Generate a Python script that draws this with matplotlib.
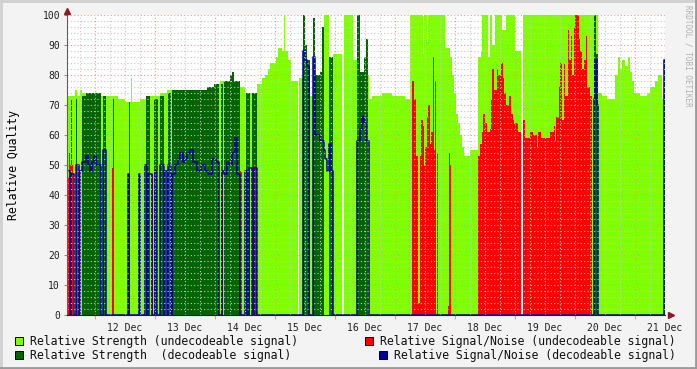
import numpy as np
import matplotlib
matplotlib.use("Agg")
import matplotlib.pyplot as plt
from matplotlib.lines import Line2D
from matplotlib.patches import Rectangle
from matplotlib.ticker import FixedLocator, FixedFormatter, MultipleLocator

nan = np.nan

# rrd rows: one row = 24 min, row 0 = 11 Dec 12:48 (hours since 11 Dec 00:00)
T0 = 12.8
STEP = 0.4
N_ROWS = 598

# relative strength, undecodeable signal (light green)
weak_rows = [0, 8, 10, 13, 15, 34, 51, 58, 64, 65, 73, 83, 93, 100, 148, 153, 173, 178,
             190, 195, 198, 201, 203, 209, 211, 215, 217, 218, 221, 224, 231, 232, 243,
             246, 257, 262, 266, 275, 277, 286, 293, 302, 305, 315, 325, 338, 343, 356,
             357, 360, 361, 378, 383, 385, 387, 389, 391, 393, 395, 397, 403, 411, 414,
             415, 421, 423, 425, 428, 435, 439, 448, 454, 456, 531, 535, 540, 548, 551,
             553, 555, 558, 561, 563, 565, 567, 573, 580, 583, 588, 591, 595]
weak_vals = [73, 75, 73, 75, 74, 73, 72, 71, 79, 71, 72, 73, 74, 75, 77, 78, 76, 74,
             77, 79, 80, 82, 84, 86, 89, 88, 100, 88, 85, 78, nan, 79, 73,
             80, 100, 86, 87, nan, 100, 85, 80, 72, 73, 74, 73, 72, 100, 87,
             100, 91, 100, 89, 86, 80, 74, 67, 64, 60, 56, 53, 55, 86, 88,
             100, 86, 100, 90, 100, 95, 100, 88, nan, 100, 74, 73, 72, 80, 86,
             82, 85, 83, 86, 81, 78, 74, 73, 74, 76, 78, 80, 72]

# relative strength, decodeable signal (dark green)
good_rows = [4, 5, 9, 10, 15, 19, 34, 36, 39, 46, 47, 62, 63, 79, 83, 87, 91, 93, 97,
             101, 104, 105, 140, 147, 152, 154, 156, 157, 163, 165, 167, 173, 179, 183,
             185, 190, 236, 238, 240, 243, 246, 248, 253, 255, 257, 262, 266, 290, 293,
             297, 299, 301, 527, 529, 531, 597]
good_vals = [72, nan, 72, nan, 73, 74, nan, 73, nan, 72, nan, 71, nan, 73, nan, 72, nan, 73, nan,
             74, nan, 75, 76, 77, nan, 77, nan, 78, 80, 81, 78, nan, 74, nan,
             74, nan, 100, 90, 85, nan, 99, 80, 81, 96, nan, 86, nan, 100, 81,
             86, 92, nan, 100, 87, nan, 85]

# relative signal/noise, undecodeable signal (red)
snr_bad_rows = [0, 2, 3, 6, 10, 12, 45, 47, 84, 86, 102, 103, 155, 156, 173, 175, 178, 179,
                187, 188, 345, 347, 349, 351, 353, 354, 356, 357, 358, 360, 361, 363, 364,
                366, 367, 368, 369, 370, 371, 381, 382, 383, 384, 411, 413, 415, 416, 418,
                420, 423, 424, 425, 427, 430, 431, 434, 436, 437, 439, 442, 444, 446, 447,
                451, 454, 456, 458, 463, 466, 470, 471, 474, 483, 487, 488, 489, 492, 493,
                495, 497, 498, 501, 502, 504, 505, 507, 508, 512, 513, 515, 517, 519, 520,
                523, 525]
snr_bad_vals = [46, 54, 50, nan, 50, nan, 49, nan, 47, nan, 47, nan, 47, nan, 48, nan, 47, nan,
                50, nan, 78, 72, 53, 4, 53, 65, 63, 50, 56, 66, 70, 57, 61,
                86, 55, 78, nan, 54, nan, 3, 54, 50, nan, 53, 57, 61, 67, 64,
                61, 62, 72, 82, 75, 82, 80, 84, 79, 74, 70, 73, 67, 65, 64,
                61, nan, 65, 59, 61, 60, 56, 61, 59, 61, 63, 58, 66, 76, 84,
                65, 84, 73, 95, 85, 93, 80, 96, 100, 92, 88, 82, 85, 93, 76,
                73, nan]

# relative signal/noise, decodeable signal (blue line, 0 when not decoded)
snr_good_rows = [0, 3, 4, 7, 9, 12, 13, 15, 19, 21, 23, 25, 27, 29, 34, 36, 39, 61, 62, 72,
                 73, 78, 80, 81, 85, 88, 89, 93, 97, 98, 100, 101, 104, 105, 108, 111, 113,
                 116, 118, 120, 123, 126, 130, 134, 138, 141, 145, 149, 152, 155, 157, 160,
                 162, 165, 168, 170, 173, 178, 180, 182, 185, 187, 190, 236, 238, 240, 242,
                 246, 248, 253, 257, 258, 260, 262, 264, 266, 290, 293, 295, 297, 299, 302,
                 527, 528, 530, 531, 597]
snr_good_vals = [48, 0, 47, 0, 50, 0, 48, 51, 53, 50, 48, 51, 53, 50, 0, 55, 0, 47, 0, 47,
                 0, 50, 0, 47, 0, 48, 0, 50, 0, 48, 0, 50, 0, 47, 50, 52, 54,
                 51, 52, 54, 55, 51, 48, 50, 48, 47, 52, 51, 0, 48, 47, 51,
                 50, 54, 59, 47, 0, 48, 0, 49, 0, 49, 0, 88, 85, 83, 0,
                 86, 60, 58, 55, 52, 48, 57, 48, 0, 58, 62, 66, 64, 58, 0,
                 72, 85, 70, 0, 85]

day_labels = ["12 Dec", "13 Dec", "14 Dec", "15 Dec", "16 Dec",
              "17 Dec", "18 Dec", "19 Dec", "20 Dec", "21 Dec"]

legend_labels = ["Relative Strength (undecodeable signal)",
                 "Relative Strength  (decodeable signal)",
                 "Relative Signal/Noise (undecodeable signal)",
                 "Relative Signal/Noise (decodeable signal)"]

C_WEAK = "#80ff00"
C_GOOD = "#006400"
C_SNR_BAD = "#ff0000"
C_SNR_GOOD = "#00009c"
MONO = "DejaVu Sans Mono"


def draw_runs(ax, rows, vals, color):
    rows = np.array(rows, dtype=float)
    vals = np.array(vals, dtype=float)
    ends = np.append(rows[1:], N_ROWS)
    ok = ~np.isnan(vals)
    left = T0 + rows[ok] * STEP
    width = (ends[ok] - rows[ok]) * STEP
    ax.bar(left, vals[ok], width=width, align="edge", color=color,
           linewidth=0, zorder=1)


W, H = 697, 369
fig = plt.figure(figsize=(W / 100, H / 100), dpi=100, facecolor="#f3f3f3")
ax = fig.add_axes([67 / W, 54 / H, 598 / W, 300 / H])
ax.set_facecolor("white")

draw_runs(ax, weak_rows, weak_vals, C_WEAK)
draw_runs(ax, good_rows, good_vals, C_GOOD)
draw_runs(ax, snr_bad_rows, snr_bad_vals, C_SNR_BAD)

xs = T0 + np.append(snr_good_rows, N_ROWS) * STEP
ys = np.append(snr_good_vals, snr_good_vals[-1])
ax.step(xs, ys, where="post", color=C_SNR_GOOD, lw=1.1, zorder=2)

x_end = T0 + N_ROWS * STEP
ax.set_xlim(T0, x_end)
ax.set_ylim(0, 100)

# grid, drawn over the data like rrdtool does
for h in np.arange(18, x_end, 6):
    if h % 24 == 0:
        continue
    ax.axvline(h, color="#c8c8c8", lw=0.8, ls=(0, (1, 2)), zorder=3)
for v in range(2, 100, 2):
    if v % 10 == 0:
        continue
    ax.axhline(v, color="#c8c8c8", lw=0.8, ls=(0, (1, 2)), zorder=3)
for h in np.arange(24, x_end, 24):
    ax.axvline(h, color="#e0a0a0", lw=0.8, ls=(0, (1, 2)), zorder=3)
for v in range(10, 101, 10):
    ax.axhline(v, color="#e0a0a0", lw=0.8, ls=(0, (1, 2)), zorder=3)

# ticks
ax.xaxis.set_major_locator(MultipleLocator(24))
ax.xaxis.set_major_formatter(FixedFormatter([]))
noons = [36 + 24 * i for i in range(len(day_labels))]
ax.xaxis.set_minor_locator(FixedLocator(noons))
ax.xaxis.set_minor_formatter(FixedFormatter(day_labels))
ax.tick_params(axis="x", which="major", length=3, color="#e0a0a0", direction="out")
ax.tick_params(axis="x", which="minor", length=0, pad=6, labelsize=7)
ax.set_yticks(range(0, 101, 10))
ax.tick_params(axis="y", length=2, color="#909090", pad=3, labelsize=7)
for lab in ax.get_xticklabels(which="minor") + ax.get_yticklabels():
    lab.set_fontfamily(MONO)
    lab.set_color("#202020")

for s in ["top", "right"]:
    ax.spines[s].set_visible(False)
ax.spines["left"].set_color("#606060")
ax.spines["bottom"].set_color("#202020")
ax.spines["left"].set_zorder(4)
ax.spines["bottom"].set_zorder(4)

# axis arrows
ax.plot([T0], [101.5], marker="^", ms=4, color="#8b1a1a", clip_on=False, zorder=5)
ax.plot([x_end + 2.2], [0], marker=">", ms=4, color="#8b1a1a", clip_on=False, zorder=5)

ax.set_ylabel("Relative Quality", fontfamily=MONO, fontsize=8.3, labelpad=16)

fig.text(688 / W, 1 - 5 / H, "RRDTOOL / TOBI OETIKER", rotation=270, fontfamily=MONO,
         fontsize=5.5, color="#b0b0b0", ha="center", va="top")

# legend
leg_pos = [(15, 341, 30), (15, 355, 30), (365, 341, 380), (379, 355, 394)]
leg_cols = [C_WEAK, C_GOOD, C_SNR_BAD, C_SNR_GOOD]
for (bx, by, tx), col, lab in zip(leg_pos, leg_cols, legend_labels):
    fig.patches.append(Rectangle((bx / W, 1 - (by + 4) / H), 8 / W, 8 / H,
                                 transform=fig.transFigure, facecolor=col,
                                 edgecolor="black", lw=0.7))
    fig.text(tx / W, 1 - by / H, lab, fontfamily=MONO, fontsize=8.3,
             color="#101010", va="center", ha="left")

# 3d frame of the canvas
fig.add_artist(Line2D([0, 1], [1 - 1 / H, 1 - 1 / H], transform=fig.transFigure, color="#d0d0d0", lw=2))
fig.add_artist(Line2D([1 / W, 1 / W], [0, 1], transform=fig.transFigure, color="#d0d0d0", lw=2))
fig.add_artist(Line2D([0, 1], [1 / H, 1 / H], transform=fig.transFigure, color="#9a9a9a", lw=2))
fig.add_artist(Line2D([1 - 1 / W, 1 - 1 / W], [0, 1], transform=fig.transFigure, color="#9a9a9a", lw=2))

fig.savefig("out.png", dpi=100, facecolor=fig.get_facecolor())
